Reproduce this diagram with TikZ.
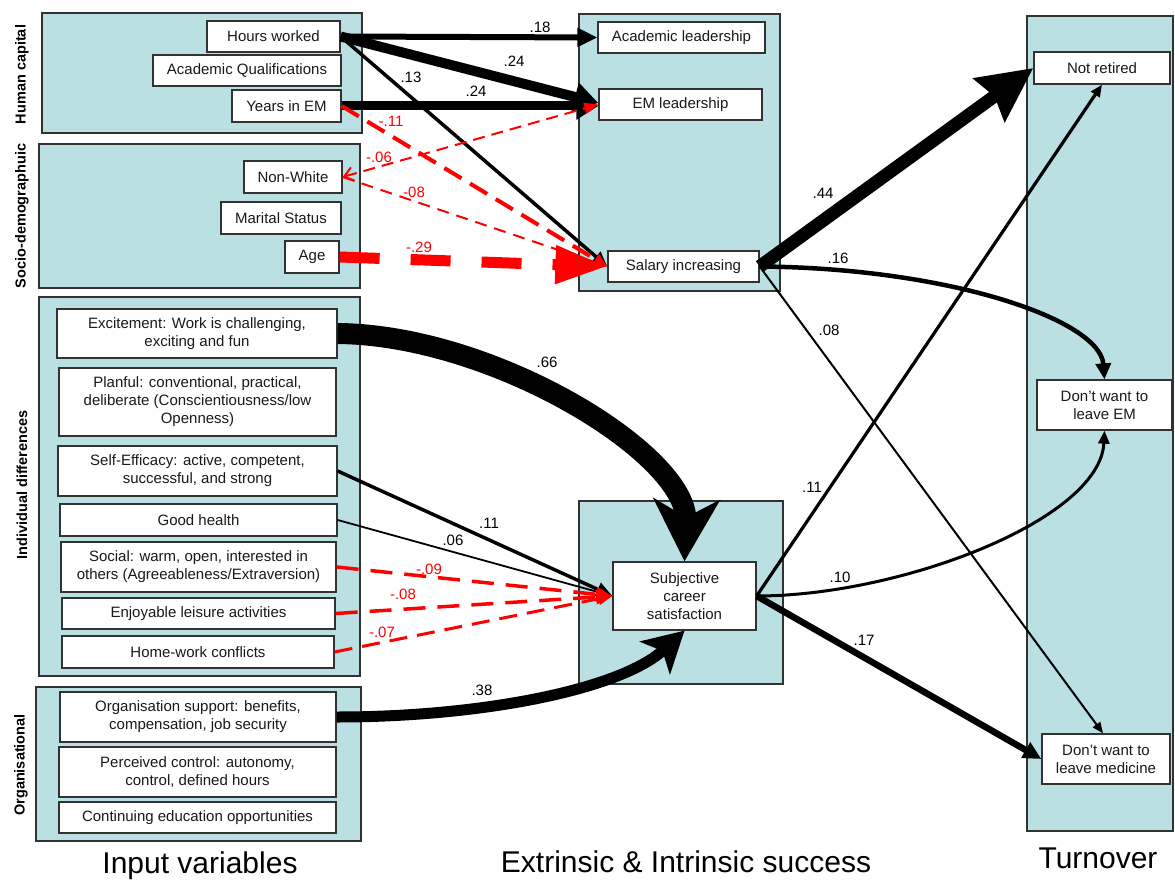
\documentclass[tikz,border=0pt]{standalone}
\usepackage{fontspec}
\setmainfont{Liberation Sans}
\usetikzlibrary{arrows.meta,calc}
\definecolor{grp}{RGB}{186,224,228}
\definecolor{bdr}{RGB}{50,50,50}
\begin{document}
\begin{tikzpicture}[x=1pt,y=-1pt,
 grpbox/.style={fill=grp,draw=bdr,line width=1.3pt},
 vbox/.style={draw=bdr,fill=white,line width=1.3pt,inner sep=0pt,align=center,font=\fontsize{15}{18}\selectfont,text=black!90},
 sz/.style 2 args={minimum width=#1pt,minimum height=#2pt},
 lab/.style={inner sep=0pt,font=\fontsize{15}{18}\selectfont},
 nlab/.style={lab,text=red},
 side/.style={rotate=90,inner sep=0pt,font=\fontsize{14.5}{17}\selectfont\bfseries},
 ttl/.style={inner sep=0pt,font=\fontsize{30}{34}\selectfont},
 posarr/.style={draw=black,line join=round},
 negarr/.style={draw=red,line join=round},
]
\useasboundingbox (0,0) rectangle (1175,882);

% group panels
\draw[grpbox] (42,13) rectangle (362,133);
\draw[grpbox] (39,144) rectangle (360,288);
\draw[grpbox] (39,297) rectangle (360,676);
\draw[grpbox] (36,687) rectangle (361,841);
\draw[grpbox] (579,14) rectangle (780,291);
\draw[grpbox] (579,501) rectangle (783,684);
\draw[grpbox] (1027,16) rectangle (1173,831);

% side labels
\node[side] (shc) at (22,74.5) {Human capital};
\node[side] (ssd) at (22,216) {Socio-demographuic};
\node[side] (sid) at (22,485) {Individual differences};
\node[side] (sor) at (21,765) {Organisational};

% input nodes
\node[vbox,sz={133}{31}] (hours) at (273.5,36.5) {Hours worked};
\node[vbox,sz={188}{31}] (acadq) at (247,70.5) {Academic Qualifications};
\node[vbox,sz={109}{32}] (years) at (286.5,106) {Years in EM};
\node[vbox,sz={98}{32}] (nonwhite) at (293,177) {Non-White};
\node[vbox,sz={120}{32}] (marital) at (281,218) {Marital Status};
\node[vbox,sz={54}{32}] (age) at (312,257) {Age};
\node[vbox,sz={280}{49}] (excite) at (197,333.5) {Excitement: Work is challenging,\\exciting and fun};
\node[vbox,sz={277}{68}] (planful) at (197.5,402) {Planful: conventional, practical,\\deliberate (Conscientiousness/low\\Openness)};
\node[vbox,sz={279}{50}] (selfeff) at (197.5,471) {Self-Efficacy: active, competent,\\successful, and strong};
\node[vbox,sz={277}{32}] (health) at (198.5,520) {Good health};
\node[vbox,sz={275}{50}] (social) at (198.5,567) {Social: warm, open, interested in\\others (Agreeableness/Extraversion)};
\node[vbox,sz={273}{31}] (leisure) at (198.5,613.5) {Enjoyable leisure activities};
\node[vbox,sz={272}{32}] (homework) at (198,652) {Home-work conflicts};
\node[vbox,sz={276}{50}] (orgsup) at (198,717) {Organisation support: benefits,\\compensation, job security};
\node[vbox,sz={277}{50}] (perceived) at (197.5,772) {Perceived control: autonomy,\\control, defined hours};
\node[vbox,sz={277}{31}] (contedu) at (197.5,817.5) {Continuing education opportunities};

% success nodes
\node[vbox,sz={167}{31}] (acadlead) at (681.5,37.5) {Academic leadership};
\node[vbox,sz={163}{31}] (emlead) at (680.5,104.5) {EM leadership};
\node[vbox,sz={151}{31}] (salary) at (683.5,266.5) {Salary increasing};
\node[vbox,sz={143}{68}] (subj) at (684.5,596) {Subjective\\career\\satisfaction};

% turnover nodes
\node[vbox,sz={136}{32}] (notret) at (1102,68) {Not retired};
\node[vbox,sz={135}{50}] (leaveem) at (1104.5,405) {Don’t want to\\leave EM};
\node[vbox,sz={128}{50}] (leavemed) at (1106,759) {Don’t want to\\leave medicine};

% titles
\node[ttl] (t1) at (200,866) {Input variables};
\node[ttl] (t2) at (686,862) {Extrinsic \& Intrinsic success};
\node[ttl] (t3) at (1098,858) {Turnover};

% ---- edges: human capital / socio-demographic
\draw[posarr,line width=6pt,-{Triangle[length=20pt,width=18pt]}] (hours.east) -- (acadlead.west);
\draw[posarr,line width=10pt,-{Triangle[length=24pt,width=28pt]}] (hours.east) -- ($(emlead.west)+(0,-1.5)$);
\draw[posarr,line width=3.5pt,-{Triangle[length=15pt,width=13pt]}] (hours.east) -- (salary.west);
\draw[posarr,line width=9pt,-{Triangle[length=22pt,width=26pt]}] (years.east) -- ($(emlead.west)+(0,1.5)$);
\draw[negarr,line width=4pt,dash pattern=on 20pt off 10pt,-{Triangle[length=14pt,width=12pt]}] (years.east) -- (salary.west);
\draw[negarr,line width=2pt,dash pattern=on 12pt off 7pt,{Straight Barb[length=9pt,width=14pt]}-{Triangle[length=14pt,width=11pt]}] (nonwhite.east) -- (emlead.west);
\draw[negarr,line width=2pt,dash pattern=on 12pt off 8pt,-{Triangle[length=12pt,width=10pt]}] (nonwhite.east) -- (salary.west);
\draw[negarr,line width=11pt,dash pattern=on 40pt off 31pt,-{Triangle[length=52pt,width=36pt]}] (age.east) -- (salary.west);

% ---- edges: individual / organisational
\draw[posarr,line width=21pt,-{Stealth[length=62pt,width=66pt,inset=18pt]}] (excite.east) .. controls (495,335) and (688,455) .. (subj.north);
\draw[posarr,line width=3.5pt,-{Triangle[length=16pt,width=14pt]}] (selfeff.east) -- (subj.west);
\draw[posarr,line width=1.8pt,-{Triangle[length=12pt,width=10pt]}] (health.east) -- (subj.west);
\draw[negarr,line width=3.5pt,dash pattern=on 22pt off 12pt,-{Triangle[length=16pt,width=14pt]}] (social.east) -- (subj.west);
\draw[negarr,line width=3.5pt,dash pattern=on 22pt off 12pt,-{Triangle[length=16pt,width=14pt]}] (leisure.east) -- (subj.west);
\draw[negarr,line width=3pt,dash pattern=on 18pt off 10pt,-{Triangle[length=14pt,width=12pt]}] (homework.east) -- (subj.west);
\draw[posarr,line width=11pt,-{Stealth[length=40pt,width=44pt,inset=10pt]}] (orgsup.east) .. controls (480,717) and (620,690) .. (subj.south);

% ---- edges: success -> turnover
\draw[posarr,line width=13pt,-{Stealth[length=54pt,width=52pt,inset=6pt]}] (salary.east) -- (notret.west);
\draw[posarr,line width=4.5pt,-{Triangle[length=16pt,width=15pt]}] (salary.east) .. controls (950,268) and (1100,320) .. (leaveem.north);
\draw[posarr,line width=2pt,-{Triangle[length=11pt,width=9pt]}] (salary.east) -- ($(leavemed.north)+(-3,0)$);
\draw[posarr,line width=3.2pt,-{Triangle[length=12pt,width=10pt]}] (subj.east) -- (notret.south);
\draw[posarr,line width=3pt,-{Triangle[length=13pt,width=11pt]}] (subj.east) .. controls (900,596) and (1100,520) .. (leaveem.south);
\draw[posarr,line width=6.5pt,-{Triangle[length=18pt,width=17pt]}] (subj.east) -- (leavemed.west);

% ---- coefficient labels
\node[lab] (c1) at (540,27) {.18};
\node[lab] (c2) at (514,61) {.24};
\node[lab] (c3) at (411,77) {.13};
\node[lab] (c4) at (476,91) {.24};
\node[nlab] (c5) at (391,121) {-.11};
\node[nlab] (c6) at (379,157) {-.06};
\node[nlab] (c7) at (414,192) {-08};
\node[nlab] (c8) at (419,247) {-.29};
\node[lab] (c9) at (823,193) {.44};
\node[lab] (c10) at (838,258) {.16};
\node[lab] (c11) at (829,330) {.08};
\node[lab] (c12) at (547,362) {.66};
\node[lab] (c13) at (489,523) {.11};
\node[lab] (c14) at (453,540) {.06};
\node[nlab] (c15) at (429,569) {-.09};
\node[nlab] (c16) at (403,594) {-.08};
\node[nlab] (c17) at (382,632) {-.07};
\node[lab] (c18) at (482,690) {.38};
\node[lab] (c19) at (812,487) {.11};
\node[lab] (c20) at (840,577) {.10};
\node[lab] (c21) at (864,640) {.17};
\end{tikzpicture}
\end{document}
